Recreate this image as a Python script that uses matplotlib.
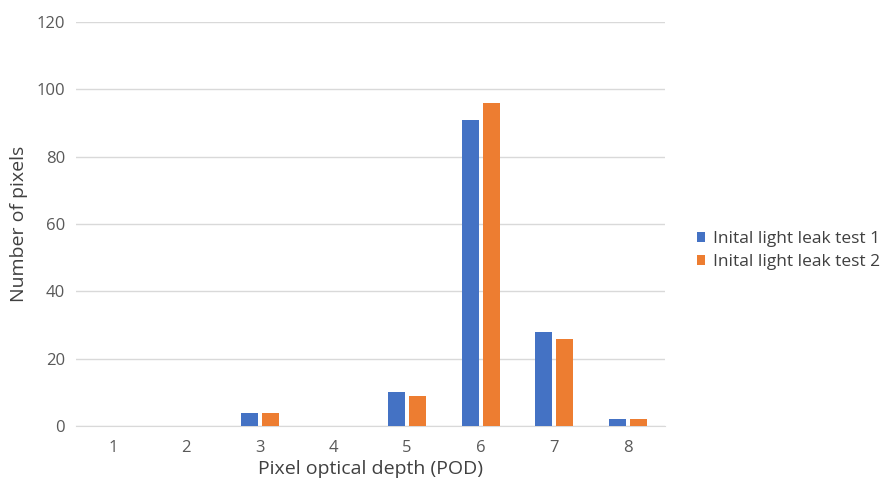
import numpy as np
import matplotlib.pyplot as plt

plt.rcParams['font.family'] = ['Open Sans', 'DejaVu Sans']

categories = ["1", "2", "3", "4", "5", "6", "7", "8"]
test1 = [0, 0, 4, 0, 10, 91, 28, 2]
test2 = [0, 0, 4, 0, 9, 96, 26, 2]
series_names = ["Inital light leak test 1", "Inital light leak test 2"]

fig = plt.figure(figsize=(8.89, 4.82), dpi=100)
ax = fig.add_axes([0.0855, 0.116, 0.662, 0.838])

x = np.arange(len(categories))
w = 0.23
gap = 0.055
ax.bar(x - (w + gap) / 2, test1, w, color="#4472C4", label=series_names[0], zorder=3)
ax.bar(x + (w + gap) / 2, test2, w, color="#ED7D31", label=series_names[1], zorder=3)

ax.set_xlim(-0.5, len(categories) - 0.5)
ax.set_ylim(0, 120)
ax.set_yticks(range(0, 121, 20))
ax.set_xticks(x)
ax.set_xticklabels(categories)
ax.grid(axis="y", color="#D9D9D9", linewidth=1, zorder=0)
for s in ["top", "right", "left"]:
    ax.spines[s].set_visible(False)
ax.spines["bottom"].set_color("#D9D9D9")
ax.tick_params(axis="y", length=0, labelsize=12, colors="#595959", pad=8)
ax.tick_params(axis="x", length=0, labelsize=12, colors="#595959", pad=10)

ax.set_xlabel("Pixel optical depth (POD)", fontsize=14, color="#404040", labelpad=3)
ax.set_ylabel("Number of pixels", fontsize=14, color="#404040", labelpad=6)

fig.legend(loc="center left", bbox_to_anchor=(0.766, 0.48), frameon=False,
           fontsize=12.5, handlelength=0.5, handleheight=0.5, handletextpad=0.45,
           labelspacing=0.42, labelcolor="#404040")

fig.savefig("out.png", dpi=100)
